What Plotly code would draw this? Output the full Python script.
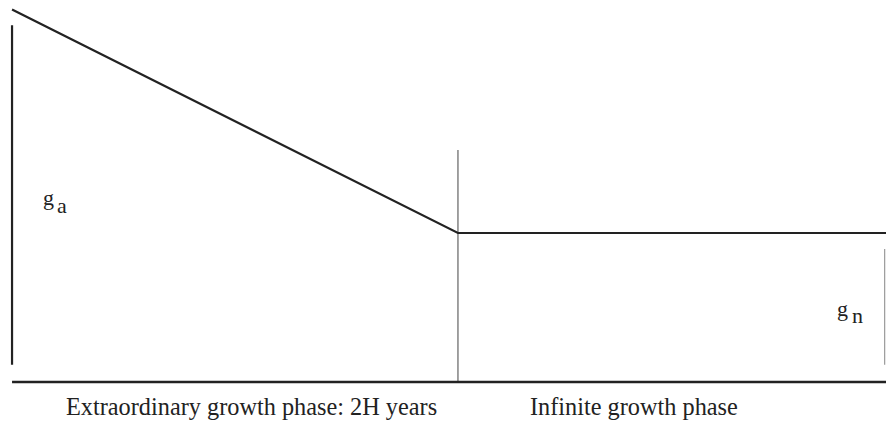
import plotly.graph_objects as go

# Conceptual H-model diagram data
H2 = 10.0          # end of extraordinary growth phase (2H years)
x_end = 19.6       # right edge of the drawn horizon
g_a = 10.0         # initial (abnormal) growth rate
g_n = 4.0          # normal long-run growth rate

# growth path
path_x = [0.0, H2, x_end]
path_y = [g_a, g_n, g_n]

# frame lines
left_bar_x = [0.0, 0.0]
left_bar_y = [9.58, 0.46]
mid_bar_x = [H2, H2]
mid_bar_y = [6.23, 0.0]
right_bar_x = [19.57, 19.57]
right_bar_y = [3.57, 0.46]
base_x = [0.0, x_end]
base_y = [0.0, 0.0]

phase_labels = ["Extraordinary growth phase: 2H years", "Infinite growth phase"]
phase_label_x = [5.37, 13.94]
phase_label_y = [-0.67, -0.67]

fig = go.Figure()
dark = "#222222"
fig.add_trace(go.Scatter(x=left_bar_x, y=left_bar_y, mode="lines",
                         line=dict(color=dark, width=2.2), hoverinfo="skip"))
fig.add_trace(go.Scatter(x=mid_bar_x, y=mid_bar_y, mode="lines",
                         line=dict(color="#8a8a8a", width=1.6), hoverinfo="skip"))
fig.add_trace(go.Scatter(x=right_bar_x, y=right_bar_y, mode="lines",
                         line=dict(color="#9a9a9a", width=1.2), hoverinfo="skip"))
fig.add_trace(go.Scatter(x=base_x, y=base_y, mode="lines",
                         line=dict(color=dark, width=2.6), hoverinfo="skip"))
fig.add_trace(go.Scatter(x=path_x, y=path_y, mode="lines",
                         line=dict(color=dark, width=2.2), hoverinfo="skip"))

font_serif = "Liberation Serif, Times New Roman, serif"
for txt, xx, yy in zip(phase_labels, phase_label_x, phase_label_y):
    fig.add_annotation(x=xx, y=yy, text=txt, showarrow=False,
                       xanchor="center", yanchor="middle",
                       font=dict(family=font_serif, size=24.3, color=dark))

# growth rate symbols
sym = [("g", 0.81, 4.95), ("a", 1.13, 4.75), ("g", 18.62, 1.98), ("n", 18.95, 1.78)]
for txt, xx, yy in sym:
    fig.add_annotation(x=xx, y=yy, text=txt, showarrow=False,
                       xanchor="center", yanchor="middle",
                       font=dict(family=font_serif, size=22, color=dark))

fig.update_layout(
    width=886, height=421,
    margin=dict(l=0, r=0, t=0, b=0),
    paper_bgcolor="white", plot_bgcolor="white",
    showlegend=False,
    xaxis=dict(range=[-0.27, 19.6], visible=False, fixedrange=True),
    yaxis=dict(range=[-1.047, 10.255], visible=False, fixedrange=True),
)
fig.write_html("out.html", config={"displayModeBar": False},
               post_script="document.body.style.margin='0';document.body.style.overflow='hidden';")
